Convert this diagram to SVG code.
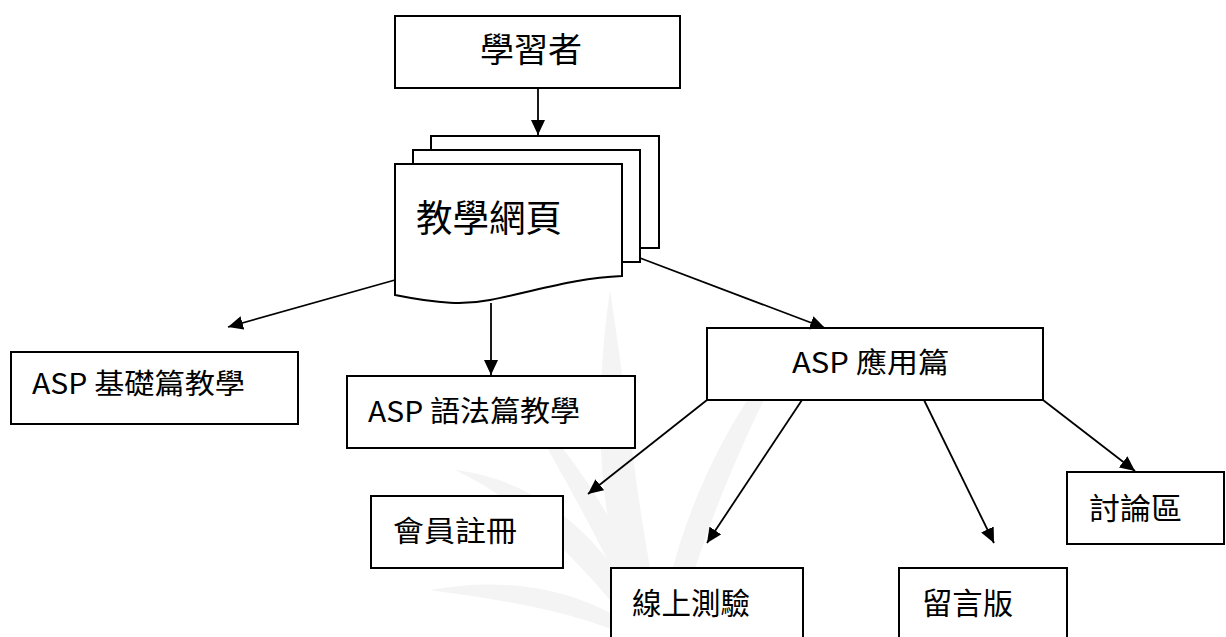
<svg xmlns="http://www.w3.org/2000/svg" width="1226" height="637" viewBox="0 0 1226 637">
<style>
.box{fill:#fff;stroke:#000;stroke-width:2}
.ln{fill:none;stroke:#000;stroke-width:1.8;marker-end:url(#ah)}
.t{font-family:"Noto Sans CJK TC","Liberation Sans",sans-serif;font-weight:400;fill:#000}
.wm{fill:#f4f4f4;stroke:none}
</style>
<defs>
<marker id="ah" markerUnits="userSpaceOnUse" markerWidth="16" markerHeight="14" refX="15" refY="7" orient="auto">
<path d="M0,0 L15,7 L0,14 Z" fill="#000"/>
</marker>
</defs>
<rect width="1226" height="637" fill="#fff"/>
<g id="watermark">
<path class="wm" d="M650,637 C600,560 590,430 610,290 C630,420 640,540 665,637 Z"/>
<path class="wm" d="M640,637 C580,560 520,500 455,470 C540,480 610,540 655,637 Z"/>
<path class="wm" d="M630,637 C570,610 500,600 430,590 C510,575 590,590 645,637 Z"/>
<path class="wm" d="M660,637 C670,540 720,420 800,330 C740,440 700,540 675,637 Z"/>
<path class="wm" d="M645,637 C600,540 560,470 520,400 C580,460 630,540 660,637 Z"/>
</g>
<g id="n-learner">
<rect class="box" x="395" y="16" width="285" height="72"/>
<text class="t" x="480" y="62" font-size="34" textLength="102" lengthAdjust="spacingAndGlyphs">學習者</text>
</g>
<g id="n-pages">
<rect class="box" x="431" y="136" width="228" height="112"/>
<rect class="box" x="413" y="150" width="227" height="112"/>
<path class="box" d="M395,164 H622 V276 C575,278 540,290 490,300 C465,305 440,304 395,295 Z"/>
<text class="t" x="416" y="232" font-size="37" textLength="146" lengthAdjust="spacingAndGlyphs">教學網頁</text>
</g>
<g id="n-basic">
<rect class="box" x="11" y="352" width="287" height="72"/>
<text class="t" x="32" y="394" font-size="28" textLength="213" lengthAdjust="spacingAndGlyphs">ASP 基礎篇教學</text>
</g>
<g id="n-syntax">
<rect class="box" x="347" y="376" width="288" height="72"/>
<text class="t" x="368" y="422" font-size="29" textLength="212" lengthAdjust="spacingAndGlyphs">ASP 語法篇教學</text>
</g>
<g id="n-apply">
<rect class="box" x="707" y="328" width="336" height="72"/>
<text class="t" x="792" y="373" font-size="28" textLength="157" lengthAdjust="spacingAndGlyphs">ASP 應用篇</text>
</g>
<g id="n-member">
<rect class="box" x="371" y="496" width="192" height="72"/>
<text class="t" x="393" y="542" font-size="29" textLength="124" lengthAdjust="spacingAndGlyphs">會員註冊</text>
</g>
<g id="n-quiz">
<rect class="box" x="611" y="568" width="192" height="80"/>
<text class="t" x="632" y="614" font-size="30" textLength="118" lengthAdjust="spacingAndGlyphs">線上測驗</text>
</g>
<g id="n-guestbook">
<rect class="box" x="899" y="568" width="168" height="80"/>
<text class="t" x="922" y="614" font-size="30" textLength="91" lengthAdjust="spacingAndGlyphs">留言版</text>
</g>
<g id="n-forum">
<rect class="box" x="1067" y="472" width="157" height="72"/>
<text class="t" x="1089" y="519" font-size="30" textLength="93" lengthAdjust="spacingAndGlyphs">討論區</text>
</g>
<g id="connectors">
<line class="ln" x1="538" y1="88" x2="538" y2="135"/>
<line class="ln" x1="395" y1="280" x2="228" y2="327"/>
<line class="ln" x1="491" y1="303" x2="491" y2="375"/>
<line class="ln" x1="640" y1="258" x2="825" y2="328"/>
<line class="ln" x1="707" y1="400" x2="588" y2="494"/>
<line class="ln" x1="802" y1="400" x2="707" y2="543"/>
<line class="ln" x1="924" y1="400" x2="994" y2="543"/>
<line class="ln" x1="1043" y1="400" x2="1135" y2="471"/>
</g>
</svg>
